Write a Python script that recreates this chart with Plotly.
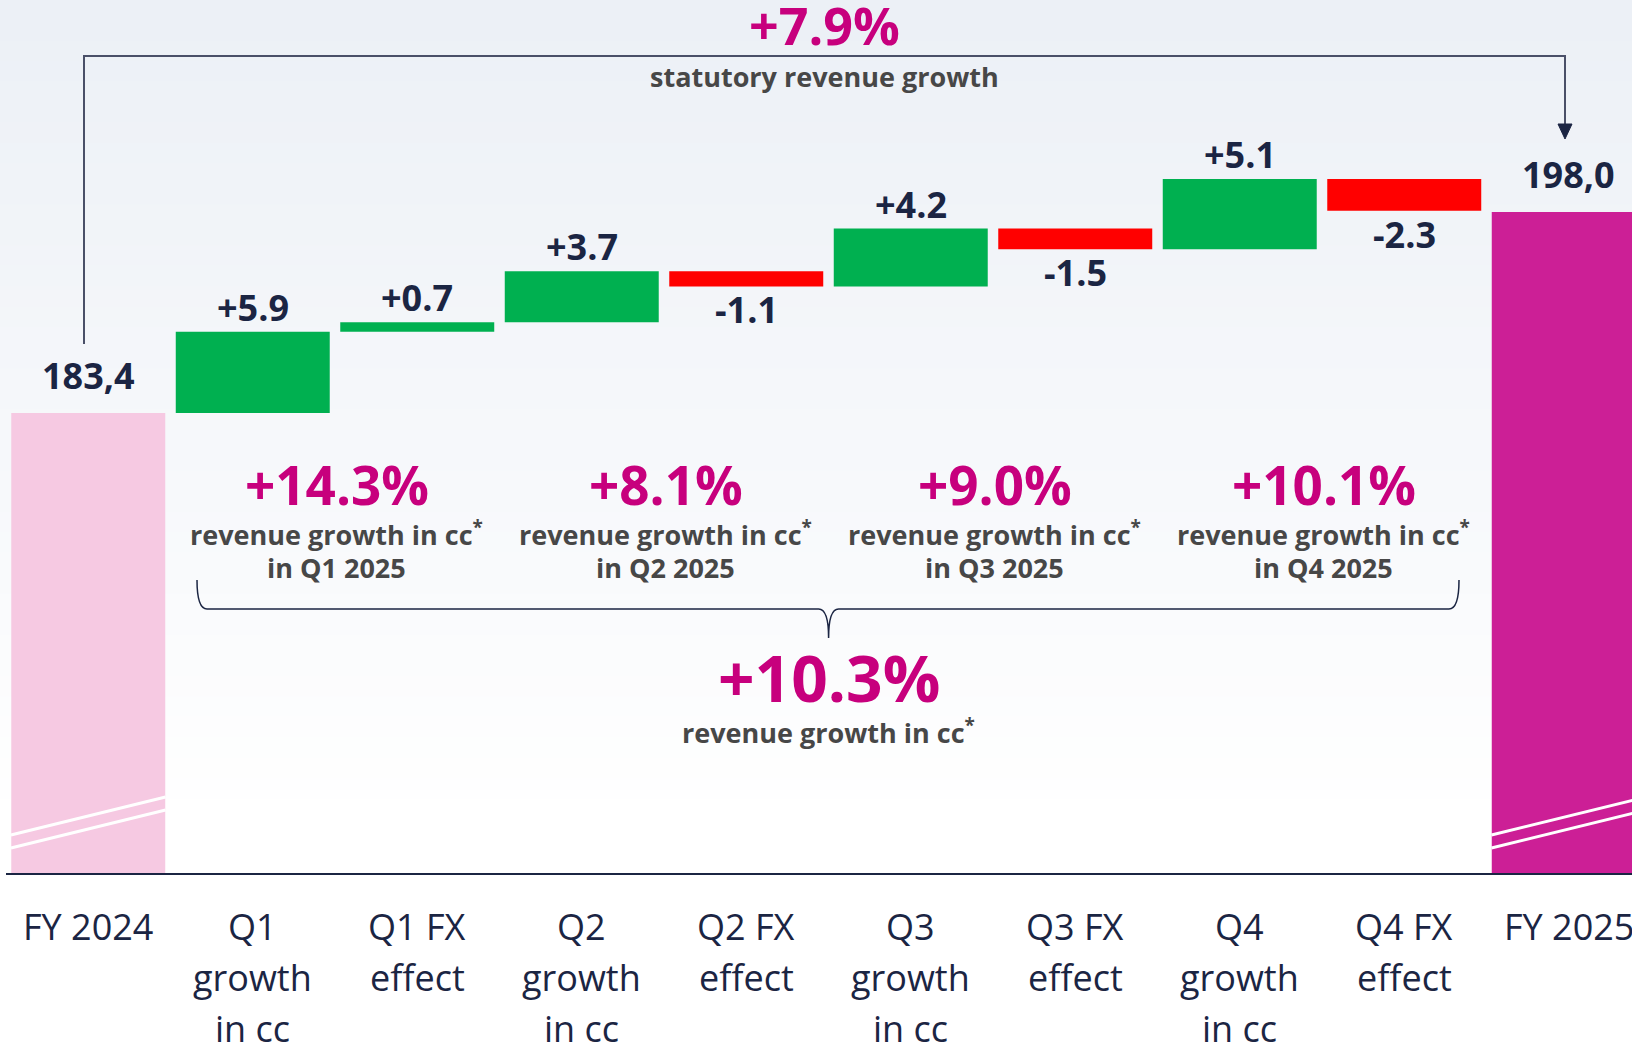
import plotly.graph_objects as go

# data
categories = ["FY 2024", "Q1<br>growth<br>in cc", "Q1 FX<br>effect", "Q2<br>growth<br>in cc", "Q2 FX<br>effect",
              "Q3<br>growth<br>in cc", "Q3 FX<br>effect", "Q4<br>growth<br>in cc", "Q4 FX<br>effect", "FY 2025"]
start_value = 183.4
end_value = 198.0
deltas = [5.9, 0.7, 3.7, -1.1, 4.2, -1.5, 5.1, -2.3]
quarter_growth = ["+14.3%", "+8.1%", "+9.0%", "+10.1%"]
quarter_names = ["in Q1 2025", "in Q2 2025", "in Q3 2025", "in Q4 2025"]
total_cc_growth = "+10.3%"
statutory_growth = "+7.9%"

NAVY = "#1b2543"
MAGENTA = "#c7007d"
GRAY = "#474747"
GREEN = "#00b050"
RED = "#ff0000"
PINK = "#f6c9e2"
FY25 = "#cc1f96"
FONT = "Open Sans"

# layout geometry (pixels)
W, H = 1632, 1046
ML, MB = 6, 173
AXIS_PX = H - MB
PITCH = 164.5
Y0 = 150
PX_PER_UNIT = 13.77
Y1 = Y0 + AXIS_PX / PX_PER_UNIT
X_MAX = (W - ML) / PITCH - 0.5


def py(p):
    return Y1 - p / PX_PER_UNIT


def px(p):
    return (p - ML) / PITCH - 0.5


def pxp(p):
    return (p - ML) / (W - ML)


def pyp(p):
    return 1 - p / AXIS_PX


# waterfall bases
bases, heights, colors = [0], [start_value], [PINK]
running = start_value
for d in deltas:
    bases.append(running)
    heights.append(d)
    colors.append(GREEN if d >= 0 else RED)
    running += d
bases.append(0)
heights.append(end_value)
colors.append(FY25)

fig = go.Figure()
fig.add_trace(go.Bar(x=categories, y=heights, base=bases, width=0.936,
                     marker=dict(color=colors, line=dict(width=0)), hoverinfo="skip"))

shapes = []
# background gradient
n = 40
top_rgb = (236, 240, 246)
for i in range(n):
    t = i / n
    c = [round(a + (255 - a) * t) for a in top_rgb]
    shapes.append(dict(type="rect", xref="paper", yref="paper", x0=-0.01, x1=1.01,
                       y0=pyp(820 * (i + 1) / n), y1=pyp(820 * i / n) + 0.001,
                       fillcolor=f"rgb({c[0]},{c[1]},{c[2]})", line=dict(width=0), layer="below"))
shapes.append(dict(type="rect", xref="paper", yref="paper", x0=-0.01, x1=1.01,
                   y0=-0.3, y1=pyp(820), fillcolor="white", line=dict(width=0), layer="below"))

# axis break marks on the total bars
for c in (0, len(categories) - 1):
    for off in (0, 13):
        shapes.append(dict(type="line", xref="x", yref="y", x0=c - 0.47, x1=c + 0.47,
                           y0=py(835 + off), y1=py(797 + off), line=dict(color="white", width=3)))

# statutory growth bracket with arrow
shapes.append(dict(type="path", xref="paper", yref="paper",
                   path=f"M {pxp(84)},{pyp(344)} V {pyp(56)} H {pxp(1565)} V {pyp(126)}",
                   line=dict(color="#4a5068", width=2)))
shapes.append(dict(type="path", xref="paper", yref="paper",
                   path=f"M {pxp(1558)},{pyp(124)} L {pxp(1572)},{pyp(124)} L {pxp(1565)},{pyp(139)} Z",
                   fillcolor=NAVY, line=dict(color=NAVY, width=1)))

# curly brace under quarter labels
xl, xm, xr = 197, 828.6, 1459
yb, yt, yv = 609, 580, 638
shapes.append(dict(type="path", xref="paper", yref="paper",
                   path=(f"M {pxp(xl)},{pyp(yt)} Q {pxp(xl)},{pyp(yb)} {pxp(xl + 10)},{pyp(yb)} "
                         f"L {pxp(xm - 10)},{pyp(yb)} Q {pxp(xm)},{pyp(yb)} {pxp(xm)},{pyp(yv)} "
                         f"Q {pxp(xm)},{pyp(yb)} {pxp(xm + 10)},{pyp(yb)} "
                         f"L {pxp(xr - 10)},{pyp(yb)} Q {pxp(xr)},{pyp(yb)} {pxp(xr)},{pyp(yt)}"),
                   line=dict(color=NAVY, width=1.5)))

annotations = []
# value labels
for i, (b, h) in enumerate(zip(bases, heights)):
    if i == 0 or i == len(categories) - 1:
        txt = f"{h:.1f}".replace(".", ",")
        annotations.append(dict(x=i, y=h, text=txt, yanchor="bottom", yshift=11, showarrow=False))
    elif h >= 0:
        annotations.append(dict(x=i, y=b + h, text=f"{h:+.1f}", yanchor="bottom", yshift=-2, showarrow=False))
    else:
        annotations.append(dict(x=i, y=b + h, text=f"{h:+.1f}", yanchor="top", yshift=3, showarrow=False))
for a in annotations:
    a.update(xref="x", yref="y", font=dict(family=FONT, size=36, color=NAVY, weight=700))

# category labels, one annotation per line
for i, cat in enumerate(categories):
    for j, line in enumerate(cat.split("<br>")):
        annotations.append(dict(x=i, y=pyp(926 + 51 * j), xref="x", yref="paper", text=line,
                                showarrow=False, yanchor="middle",
                                font=dict(family=FONT, size=36, color=NAVY)))

desc = dict(family=FONT, size=27, color=GRAY, weight=700)
big = dict(family=FONT, color=MAGENTA, weight=700)

# quarter growth blocks
for k, (g, q) in enumerate(zip(quarter_growth, quarter_names)):
    xc = 1.51 + 2 * k
    annotations.append(dict(x=xc, y=py(484), xref="x", yref="y", text=g, showarrow=False,
                            yanchor="middle", font=dict(size=53, **big)))
    annotations.append(dict(x=xc, y=py(533), xref="x", yref="y", showarrow=False, yanchor="middle",
                            text="revenue growth in cc<sup>*</sup>", font=desc))
    annotations.append(dict(x=xc, y=py(567), xref="x", yref="y", showarrow=False, yanchor="middle",
                            text=q, font=desc))

# total cc growth
annotations.append(dict(x=4.5, y=py(677), xref="x", yref="y", text=total_cc_growth, showarrow=False,
                        yanchor="middle", font=dict(size=64, **big)))
annotations.append(dict(x=4.5, y=py(731), xref="x", yref="y", text="revenue growth in cc<sup>*</sup>",
                        showarrow=False, yanchor="middle", font=desc))

# statutory growth
annotations.append(dict(x=px(824), y=py(24), xref="x", yref="y", text=statutory_growth, showarrow=False,
                        yanchor="middle", font=dict(size=52, **big)))
annotations.append(dict(x=px(824), y=py(76), xref="x", yref="y", text="statutory revenue growth",
                        showarrow=False, yanchor="middle", font=desc))

fig.update_layout(
    width=W, height=H,
    margin=dict(l=ML, r=0, t=0, b=MB),
    paper_bgcolor="white", plot_bgcolor="rgba(0,0,0,0)",
    showlegend=False,
    shapes=shapes, annotations=annotations,
    xaxis=dict(type="category", range=[-0.5, X_MAX], showline=True, linecolor=NAVY, linewidth=2,
               ticks="", showgrid=False, zeroline=False, showticklabels=False),
    yaxis=dict(range=[Y0, Y1], visible=False, showgrid=False, zeroline=False),
)

fig.write_html("out.html", config={"displayModeBar": False},
               post_script="document.body.style.margin='0';")
